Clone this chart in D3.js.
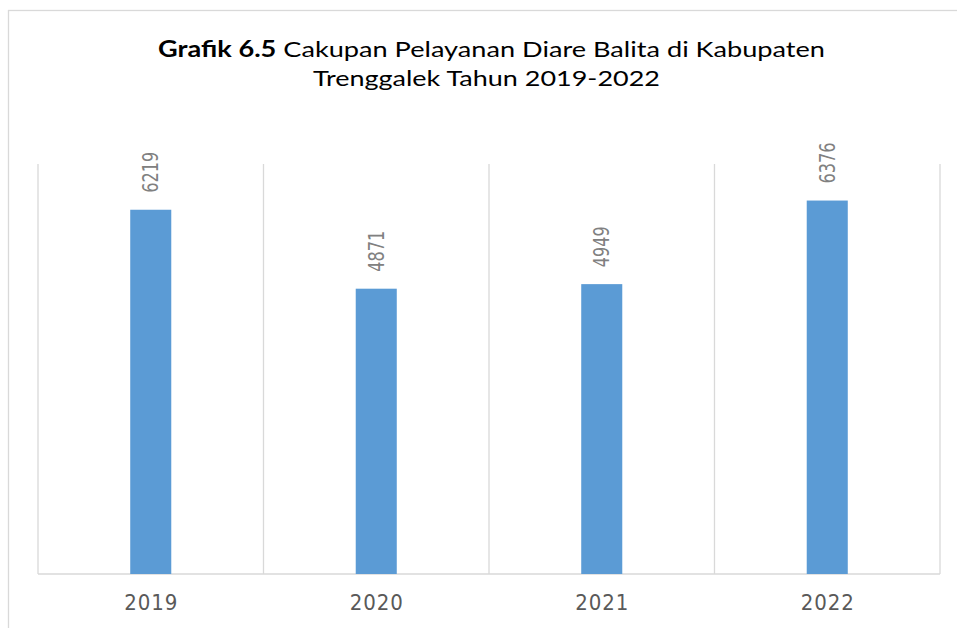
<!DOCTYPE html>
<html>
<head>
<meta charset="utf-8">
<script src="https://cdn.jsdelivr.net/npm/d3@7"></script>
<style>
  html, body { margin: 0; padding: 0; background: #fff; }
  svg { display: block; }
</style>
</head>
<body>
<svg id="chart" width="957" height="628"></svg>
<script>
// Cakupan pelayanan diare balita, Kabupaten Trenggalek
const years = ["2019", "2020", "2021", "2022"];
const cases = [6219, 4871, 4949, 6376];
const yMax = 7000;

const titleBold = "Grafik 6.5";
const titleRest = " Cakupan Pelayanan Diare Balita di Kabupaten";
const titleLine2 = "Trenggalek Tahun 2019-2022";

const W = 957, H = 628;
const plot = { left: 38, right: 940, top: 164, bottom: 574 };
const font = "Lato, 'Open Sans', 'Liberation Sans', sans-serif";
const narrow = "'Liberation Sans Narrow', 'DejaVu Sans Condensed', 'Liberation Sans', sans-serif";
const grid = "#d9d9d9";

const svg = d3.select("#chart");

// outer chart frame
svg.append("rect")
  .attr("x", 8.5).attr("y", 10.5)
  .attr("width", W + 10).attr("height", H + 10)
  .attr("fill", "#fff").attr("stroke", grid).attr("stroke-width", 1.3);

const x = d3.scaleBand().domain(years).range([plot.left, plot.right]).padding(0);
const y = d3.scaleLinear().domain([0, yMax]).range([plot.bottom, plot.top]);

// vertical category separators
const bounds = years.map(d => x(d)).concat([x(years[years.length - 1]) + x.bandwidth()]);
svg.append("g").selectAll("line").data(bounds).join("line")
  .attr("x1", d => d).attr("x2", d => d)
  .attr("y1", y(yMax)).attr("y2", y(0))
  .attr("stroke", grid).attr("stroke-width", 1.3);

// baseline
svg.append("line")
  .attr("x1", plot.left).attr("x2", plot.right)
  .attr("y1", y(0)).attr("y2", y(0))
  .attr("stroke", grid).attr("stroke-width", 1.3);

// bars
const barW = x.bandwidth() * 0.182;
svg.append("g").selectAll("rect").data(cases).join("rect")
  .attr("x", (d, i) => x(years[i]) + x.bandwidth() / 2 - barW / 2)
  .attr("y", d => y(d))
  .attr("width", barW)
  .attr("height", d => y(0) - y(d))
  .attr("fill", "#5b9bd5");

// rotated value labels above bars
svg.append("g").selectAll("text").data(cases).join("text")
  .attr("transform", (d, i) => `translate(${x(years[i]) + x.bandwidth() / 2},${y(d) - 17}) rotate(-90)`)
  .attr("text-anchor", "start")
  .attr("dominant-baseline", "central")
  .attr("font-family", narrow)
  .attr("font-size", 22)
  .attr("fill", "#808080")
  .attr("textLength", 41)
  .attr("lengthAdjust", "spacingAndGlyphs")
  .text(d => d);

// category axis labels (letter-spaced)
svg.append("g").selectAll("text").data(years).join("text")
  .attr("x", d => x(d) + x.bandwidth() / 2)
  .attr("y", 610)
  .attr("text-anchor", "middle")
  .attr("font-family", narrow)
  .attr("font-size", 22)
  .attr("fill", "#595959")
  .attr("textLength", 53)
  .attr("lengthAdjust", "spacing")
  .text(d => d);

// title
const t1 = svg.append("text")
  .attr("x", 491.5).attr("y", 57)
  .attr("text-anchor", "middle")
  .attr("font-family", font)
  .attr("font-size", 22)
  .attr("fill", "#000")
  .attr("textLength", 667)
  .attr("lengthAdjust", "spacingAndGlyphs");
t1.append("tspan").attr("font-weight", "bold").text(titleBold);
t1.append("tspan").text(titleRest);

svg.append("text")
  .attr("x", 486.5).attr("y", 86)
  .attr("text-anchor", "middle")
  .attr("font-family", font)
  .attr("font-size", 22)
  .attr("fill", "#000")
  .attr("textLength", 347)
  .attr("lengthAdjust", "spacingAndGlyphs")
  .text(titleLine2);
</script>
</body>
</html>
